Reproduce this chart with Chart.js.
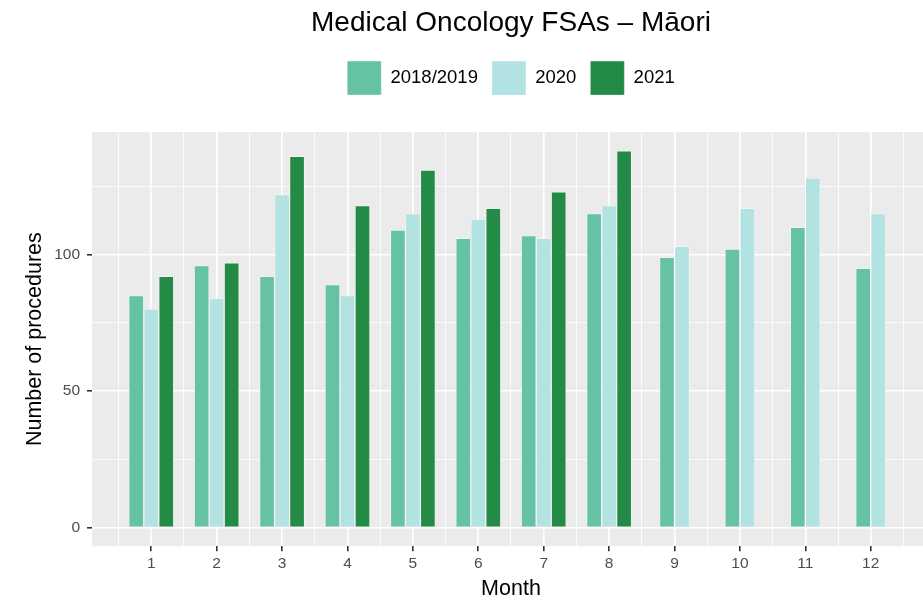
<!DOCTYPE html>
<html>
<head>
<meta charset="utf-8">
<script src="https://cdn.jsdelivr.net/npm/chart.js@4.4.0/dist/chart.umd.min.js"></script>
<style>
  html, body { margin: 0; padding: 0; background: #ffffff; overflow: hidden; }
  #wrap { width: 945px; height: 601px; }
</style>
</head>
<body>
<div id="wrap"><canvas id="myBarChart" width="945" height="601"></canvas></div>
<script>
// Months and procedure counts per year
const months = [1, 2, 3, 4, 5, 6, 7, 8, 9, 10, 11, 12];
const counts1819 = [85, 96, 92, 89, 109, 106, 107, 115, 99, 102, 110, 95];
const counts2020 = [80, 84, 122, 85, 115, 113, 106, 118, 103, 117, 128, 115];
const counts2021 = [92, 97, 136, 118, 131, 117, 123, 138, null, null, null, null];
const seriesNames = ["2018/2019", "2020", "2021"];
const seriesColors = ["#66C2A5", "#B2E2E2", "#238B45"];
const yTicks = [0, 25, 50, 75, 100, 125];
const xTicks = [0.5, 1, 1.5, 2, 2.5, 3, 3.5, 4, 4.5, 5, 5.5, 6, 6.5, 7, 7.5, 8, 8.5, 9, 9.5, 10, 10.5, 11, 11.5, 12, 12.5];

function toPoints(values) {
  return months.map((m, i) => ({ x: m, y: values[i] }));
}

// grey panel behind the plot like ggplot
const panelBackground = {
  id: "panelBackground",
  beforeDraw(chart) {
    const { ctx, chartArea } = chart;
    ctx.save();
    ctx.fillStyle = "#EBEBEB";
    ctx.fillRect(chartArea.left, chartArea.top, chartArea.right - chartArea.left, chartArea.bottom - chartArea.top);
    ctx.restore();
  },
};

// extra room under the legend
const legendGap = {
  id: "legendGap",
  beforeInit(chart) {
    const fit = chart.legend.fit;
    chart.legend.fit = function () {
      fit.bind(chart.legend)();
      this.height += 27;
    };
  },
};

const isMajorX = (c) => !!c.tick && Number.isInteger(c.tick.value);
const isMajorY = (c) => !!c.tick && c.tick.value % 50 === 0;

const data = {
  datasets: [counts1819, counts2020, counts2021].map((vals, i) => ({
    label: seriesNames[i],
    data: toPoints(vals),
    backgroundColor: seriesColors[i],
    borderColor: "rgba(255,255,255,0.35)",
    borderWidth: 1,
  })),
};

const ctx = document.getElementById("myBarChart").getContext("2d");
const myBarChart = new Chart(ctx, {
  type: "bar",
  data: data,
  plugins: [panelBackground, legendGap],
  options: {
    responsive: false,
    animation: false,
    barThickness: 15,
    skipNull: true,
    layout: { padding: { left: 0, right: 15, top: 0, bottom: 0 } },
    plugins: {
      tooltip: { enabled: false },
      title: {
        display: true,
        text: "Medical Oncology FSAs – Māori",
        fullSize: false,
        color: "#000000",
        font: { family: "'Liberation Sans', Arial, sans-serif", size: 28, weight: "normal" },
        padding: { top: 6, bottom: 7.5 },
      },
      legend: {
        display: true,
        position: "top",
        fullSize: false,
        labels: {
          boxWidth: 34,
          boxHeight: 34,
          padding: 14,
          color: "#000000",
          font: { family: "'Liberation Sans', Arial, sans-serif", size: 18.5 },
        },
      },
    },
    scales: {
      x: {
        type: "linear",
        min: 0.094,
        max: 12.906,
        offset: false,
        afterBuildTicks(scale) {
          scale.ticks = xTicks.map((v) => ({ value: v }));
        },
        border: { display: false },
        grid: {
          offset: false,
          color: "#FFFFFF",
          lineWidth: (c) => (isMajorX(c) ? 1.6 : 0.8),
          tickColor: (c) => (isMajorX(c) ? "#333333" : "rgba(0,0,0,0)"),
          tickWidth: 1.6,
          tickLength: 5,
        },
        ticks: {
          autoSkip: false,
          maxRotation: 0,
          padding: 3,
          color: "#4D4D4D",
          font: { family: "'Liberation Sans', Arial, sans-serif", size: 15.5 },
          callback: (v) => (Number.isInteger(v) ? String(v) : ""),
        },
        title: {
          display: true,
          text: "Month",
          color: "#000000",
          font: { family: "'Liberation Sans', Arial, sans-serif", size: 21.5, lineHeight: 1.08 },
          padding: { top: 2, bottom: 0 },
        },
      },
      y: {
        min: -6.9,
        max: 144.9,
        afterBuildTicks(scale) {
          scale.ticks = yTicks.map((v) => ({ value: v }));
        },
        afterFit(scale) {
          scale.width = 92;
        },
        border: { display: false },
        grid: {
          color: "#FFFFFF",
          lineWidth: (c) => (isMajorY(c) ? 1.6 : 0.8),
          tickColor: (c) => (isMajorY(c) ? "#333333" : "rgba(0,0,0,0)"),
          tickWidth: 1.6,
          tickLength: 5,
        },
        ticks: {
          padding: 7,
          color: "#4D4D4D",
          font: { family: "'Liberation Sans', Arial, sans-serif", size: 15.5 },
          callback: (v) => (v % 50 === 0 ? String(v) : ""),
        },
        title: {
          display: true,
          text: "Number of procedures",
          color: "#000000",
          font: { family: "'Liberation Sans', Arial, sans-serif", size: 21.5 },
          padding: { top: 22, bottom: 0 },
        },
      },
    },
  },
});
</script>
</body>
</html>
